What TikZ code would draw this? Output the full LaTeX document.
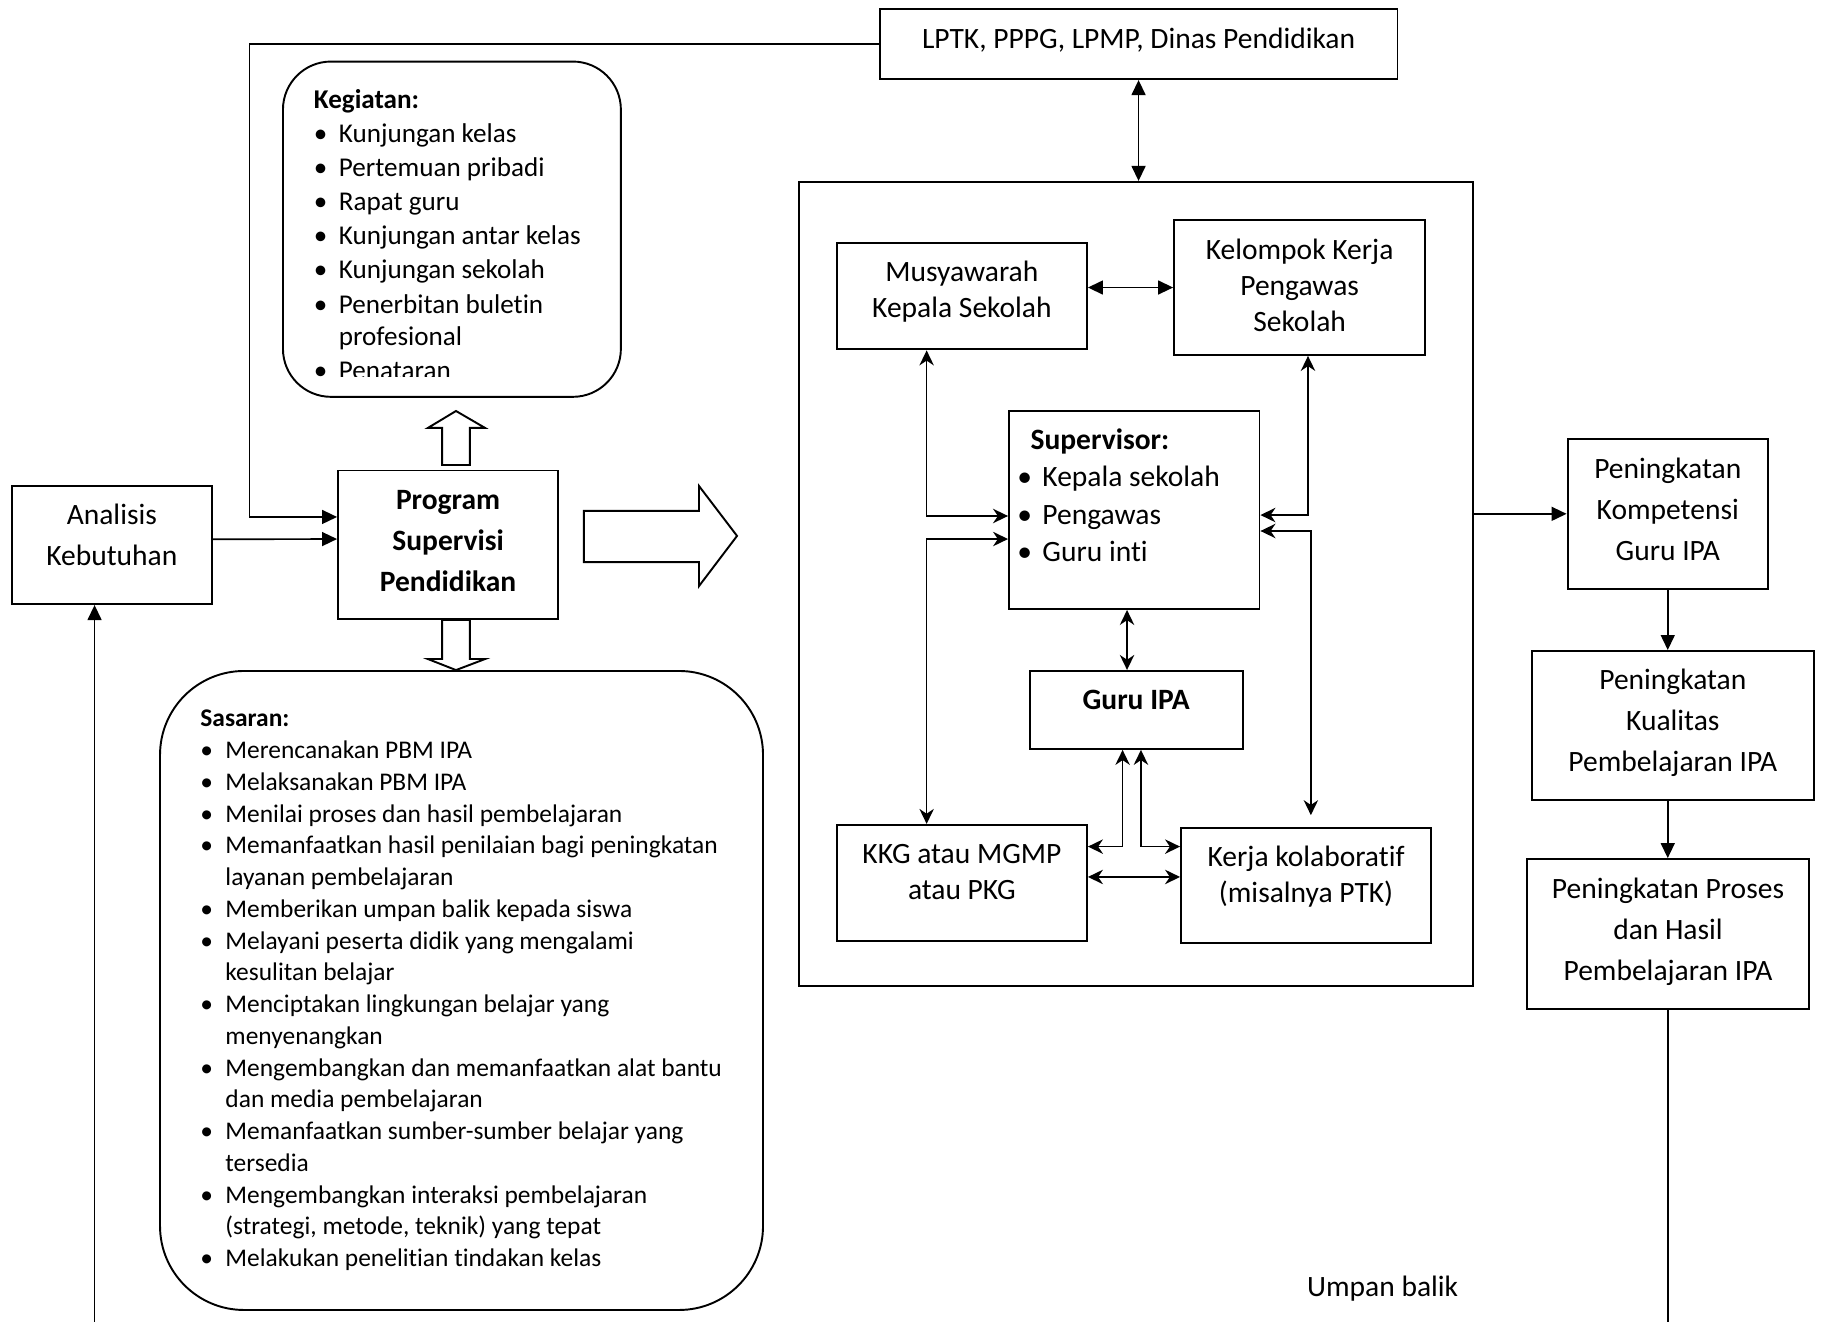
\documentclass[tikz,border=0pt]{standalone}
\usepackage{fontspec}
\setmainfont{Carlito}[Ligatures=CommonOff]
\usepackage{tikz}
\usetikzlibrary{arrows.meta}

\newcommand{\bul}[1][10.45pt]{\makebox[#1][l]{\textbullet}}

\begin{document}
\begin{tikzpicture}[x=1pt, y=-1pt,
    box/.style={rectangle, draw, line width=0.8pt, inner sep=0pt, align=center, font=\fontsize{12.3}{17}\selectfont},
    inbox/.style={box, font=\fontsize{12.3}{15}\selectfont},
    rbox/.style={rectangle, draw, line width=0.8pt, rounded corners=#1},
    list/.style={inner sep=0pt, anchor=base west},
    hollow/.style={draw, line width=0.8pt, line join=miter},
    line/.style={line width=0.7pt},
    arrow/.style={->, line width=0.7pt, >={Triangle[length=6.25pt, width=5.8pt]}},
    darrow/.style={arrow, <->},
    link/.style={<->, line width=0.7pt, >={Stealth[length=6.25pt, width=6pt, inset=2pt]}}
]
    \useasboundingbox (0,0) rectangle (758.75,550.83);

    % Left column
    \node[box, minimum width=83.5pt, minimum height=49.2pt, text height=24.9pt, text depth=8pt] (ana) at (46.6,227.1) {Analisis\\Kebutuhan};
    \node[box, font=\fontsize{12.3}{17}\selectfont\bfseries, minimum width=91.7pt, minimum height=61.9pt, text height=41.9pt, text depth=3pt] (prog) at (186.7,227) {Program\\Supervisi\\Pendidikan};

    % Kegiatan
    \node[rbox=20pt, minimum width=140.8pt, minimum height=139.7pt] (keg) at (188.3,95.5) {};
    \begin{scope}
        \clip (117.9,25.7) rectangle (258.75,156.96);
        \node[list, font=\fontsize{11.3}{14.17}\selectfont] (kegtext) at (130.6,45.4) {\begin{tabular}[t]{@{}l@{}}
            \textbf{Kegiatan:}\\
            \bul[10.4pt]Kunjungan kelas\\
            \bul[10.4pt]Pertemuan pribadi\\
            \bul[10.4pt]Rapat guru\\
            \bul[10.4pt]Kunjungan antar kelas\\
            \bul[10.4pt]Kunjungan sekolah\\
            \bul[10.4pt]Penerbitan buletin\\[-0.83pt]
            \hspace{10.4pt}profesional\\
            \bul[10.4pt]Penataran
        \end{tabular}};
    \end{scope}

    % Sasaran
    \node[rbox=35pt, minimum width=251.25pt, minimum height=266.25pt] (sas) at (192.3,412.7) {};
    \node[list, font=\fontsize{10.6}{13.23}\selectfont] (sastext) at (83.3,302.9) {\begin{tabular}[t]{@{}l@{}}
        \textbf{Sasaran:}\\
        \bul Merencanakan PBM IPA\\
        \bul Melaksanakan PBM IPA\\
        \bul Menilai proses dan hasil pembelajaran\\
        \bul Memanfaatkan hasil penilaian bagi peningkatan\\
        \hspace{10.45pt}layanan pembelajaran\\
        \bul Memberikan umpan balik kepada siswa\\
        \bul Melayani peserta didik yang mengalami\\
        \hspace{10.45pt}kesulitan belajar\\
        \bul Menciptakan lingkungan belajar yang\\
        \hspace{10.45pt}menyenangkan\\
        \bul Mengembangkan dan memanfaatkan alat bantu\\
        \hspace{10.45pt}dan media pembelajaran\\
        \bul Memanfaatkan sumber-sumber belajar yang\\
        \hspace{10.45pt}tersedia\\
        \bul Mengembangkan interaksi pembelajaran\\
        \hspace{10.45pt}(strategi, metode, teknik) yang tepat\\
        \bul Melakukan penelitian tindakan kelas
    \end{tabular}};

    % Hollow arrows
    \draw[hollow] (184.2,193.75) -- (184.2,178.3) -- (178.3,178.3) -- (190,171.25) -- (202.1,178.3) -- (195.8,178.3) -- (195.8,193.75) -- cycle;
    \draw[hollow] (184.2,258.3) -- (184.2,274.6) -- (178.3,274.6) -- (190,279.2) -- (202.1,274.6) -- (195.8,274.6) -- (195.8,258.3) -- cycle;
    \draw[hollow] (243.3,212.9) -- (291.25,212.9) -- (291.25,202.5) -- (307.1,223.3) -- (291.25,244.2) -- (291.25,234.2) -- (243.3,234.2) -- cycle;

    % Middle block
    \node[box, minimum width=215.8pt, minimum height=29.3pt, text height=8pt, text depth=4.3pt] (lptk) at (474.4,18.3) {LPTK, PPPG, LPMP, Dinas Pendidikan};
    \node[box, minimum width=280.8pt, minimum height=335pt] (cont) at (473.2,243.3) {};
    \node[inbox, minimum width=104.2pt, minimum height=44.4pt, text height=22.9pt, text depth=5.4pt] (musy) at (400.8,123.4) {Musyawarah\\Kepala Sekolah};
    \node[inbox, minimum width=104.6pt, minimum height=56.2pt, text height=37.9pt, text depth=1.6pt] (kelo) at (541.5,119.8) {Kelompok Kerja\\Pengawas\\Sekolah};
    \node[box, minimum width=104.35pt, minimum height=82.5pt] (sup) at (472.6,212.5) {};
    \node[list, font=\fontsize{12.3}{15.55}\selectfont] (suptext) at (423.7,187.3) {\begin{tabular}[t]{@{}l@{}}
        \hspace{5.5pt}\textbf{Supervisor:}\\
        \bul Kepala sekolah\\
        \bul Pengawas\\
        \bul Guru inti
    \end{tabular}};
    \node[inbox, font=\fontsize{12.3}{15}\selectfont\bfseries, minimum width=88.8pt, minimum height=32.5pt, text height=8pt, text depth=8pt] (guru) at (473.4,295.8) {Guru IPA};
    \node[inbox, minimum width=104.2pt, minimum height=48.2pt, text height=22.9pt, text depth=8.8pt] (kkg) at (400.8,367.8) {KKG atau MGMP\\atau PKG};
    \node[inbox, minimum width=104.2pt, minimum height=47.9pt, text height=22.9pt, text depth=9.2pt] (kerja) at (544.2,369) {Kerja kolaboratif\\(misalnya PTK)};

    % Right column
    \node[box, minimum width=83.5pt, minimum height=62.3pt, text height=41.9pt, text depth=3.4pt] (komp) at (694.9,214.1) {Peningkatan\\Kompetensi\\Guru IPA};
    \node[box, minimum width=117.6pt, minimum height=62.1pt, text height=41.9pt, text depth=3.7pt] (kual) at (697,302.3) {Peningkatan\\Kualitas\\Pembelajaran IPA};
    \node[box, minimum width=117.5pt, minimum height=62.5pt, text height=41.9pt, text depth=3.4pt] (pro) at (695,389.2) {Peningkatan Proses\\dan Hasil\\Pembelajaran IPA};
    \node[font=\fontsize{12.3}{15}\selectfont] (umpan) at (576.1,537.1) {Umpan balik};

    % Arrows
    \coordinate (fbk) at (104,215.4);
    \coordinate (fbl) at (39.4,550.83);
    \draw[arrow] (lptk.west) -| (fbk) -- (fbk -| prog.west);
    \draw[arrow] ([yshift=2.4pt]ana.east) -- ([yshift=2.4pt]prog.west);
    \draw[arrow] (fbl) -- (fbl |- ana.south);
    \draw[line] (pro.south) -- (pro.south |- fbl);
    \draw[darrow] (lptk.south) -- (lptk.south |- cont.north);
    \draw[arrow] (cont.east |- komp.west) -- (komp.west);
    \draw[arrow] (komp.south) -- (komp.south |- kual.north);
    \draw[arrow] (kual.south -| komp.south) -- (komp.south |- pro.north);

    % Links inside
    \draw[darrow] (musy.east |- kelo.west) -- (kelo.west);
    \draw[link] ([xshift=-14.7pt]musy.south) |- ([yshift=-2.5pt]sup.west);
    \draw[link] ([yshift=-12.1pt]sup.west) -| ([xshift=-14.7pt]kkg.north);
    \draw[link] ([xshift=3.5pt]kelo.south) |- ([yshift=-2.1pt]sup.east);
    \draw[link] ([yshift=-8.75pt]sup.east) -| ([xshift=2pt,yshift=5pt]kerja.north);
    \coordinate (sg) at ([xshift=-3pt]sup.south);
    \draw[link] (sg) -- (sg |- guru.north);
    \coordinate (g1) at ([xshift=-5.65pt]guru.south);
    \coordinate (g2) at ([xshift=2pt]guru.south);
    \draw[link] (g1) |- ([yshift=15.05pt]kkg.east);
    \draw[link] (g2) |- ([yshift=16.25pt]kerja.west);
    \coordinate (kk) at ([yshift=2.4pt]kkg.east);
    \draw[link] (kk) -- (kk -| kerja.west);
\end{tikzpicture}
\end{document}
